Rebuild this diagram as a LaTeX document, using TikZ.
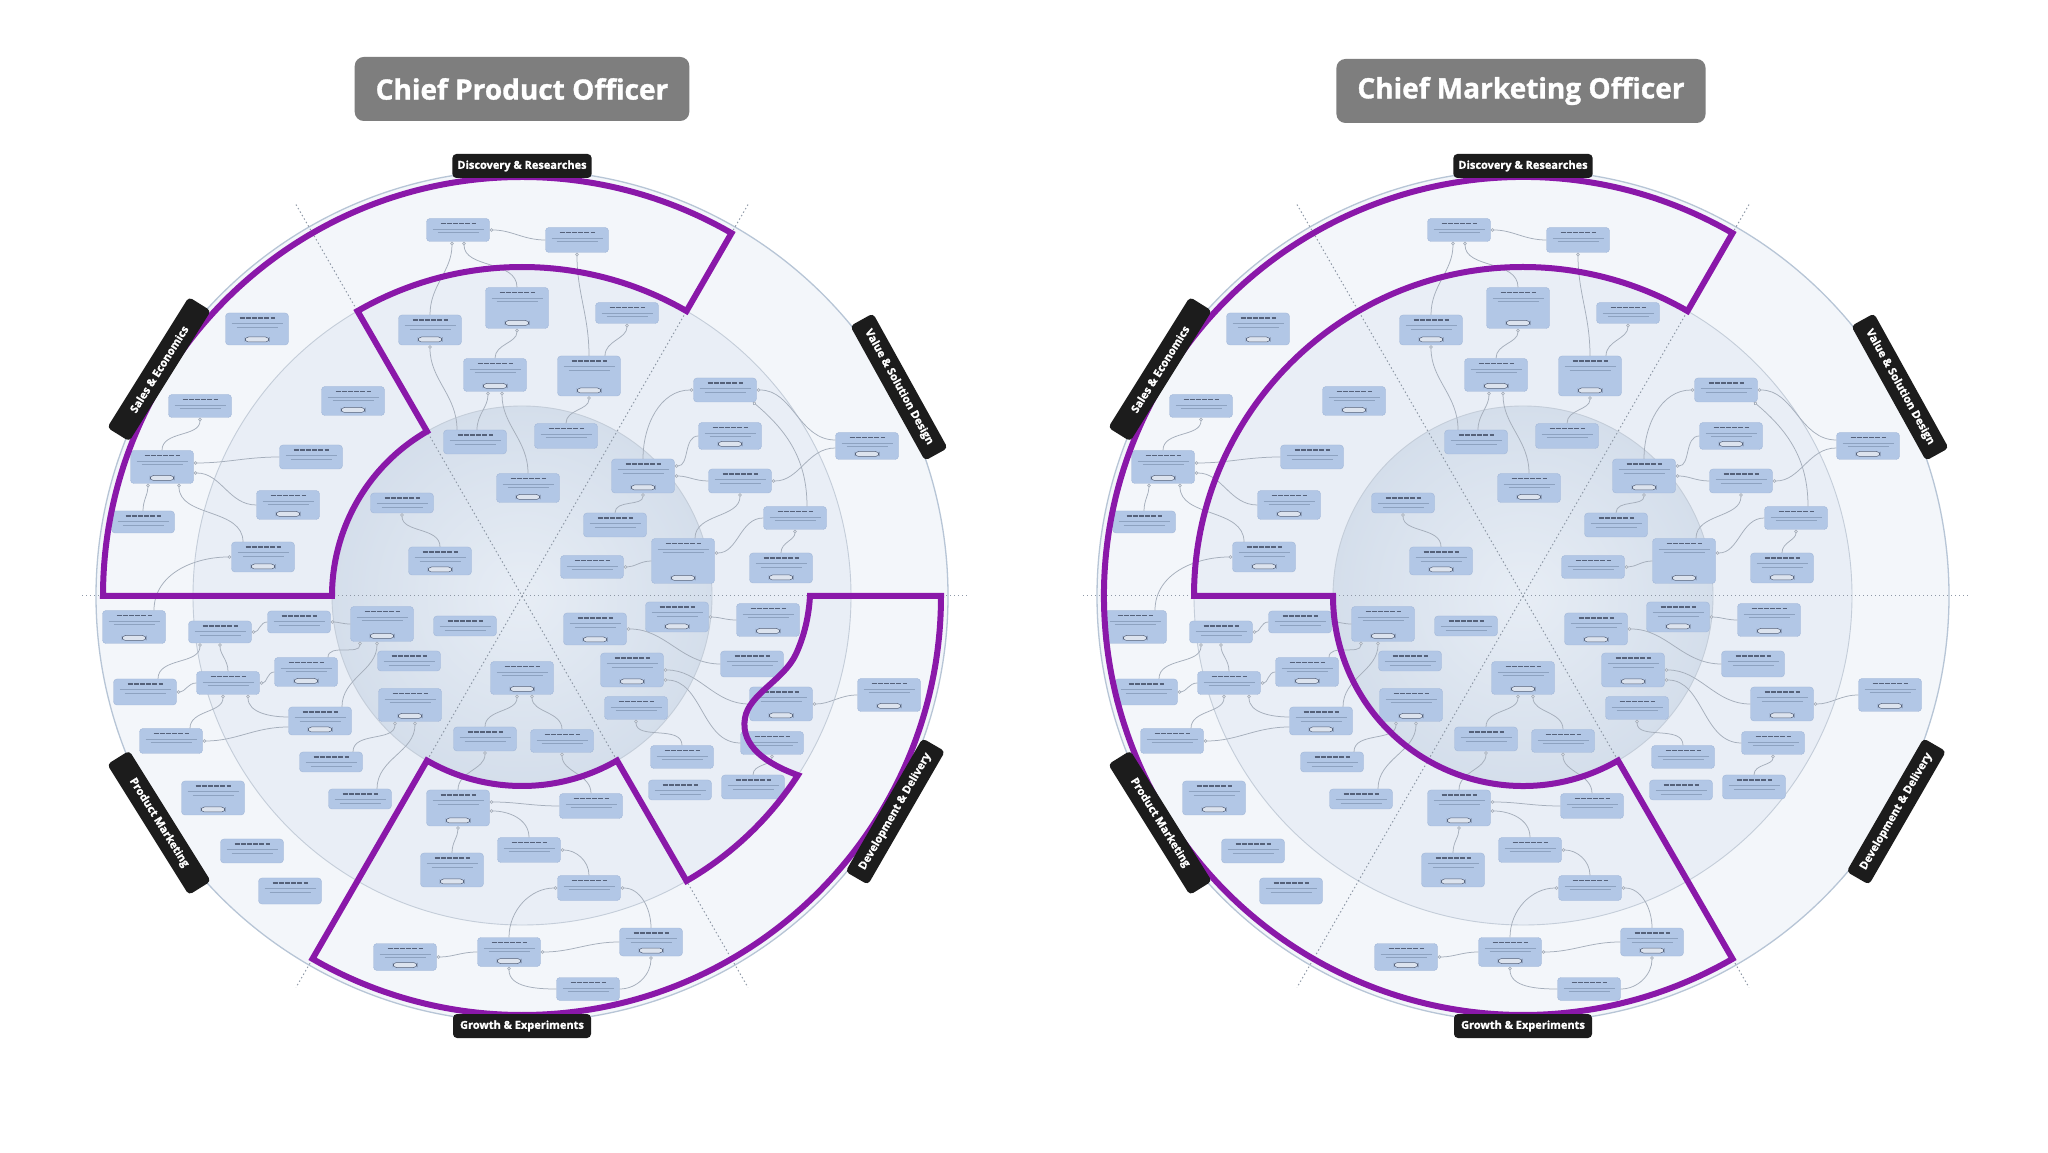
\documentclass[tikz,border=0pt]{standalone}
\usepackage{fontspec}
\setmainfont{Open Sans}
\newfontfamily\heavy{Open Sans}[BoldFeatures={FakeBold=1.2}]
\usetikzlibrary{arrows.meta}
\definecolor{cardblue}{HTML}{B2C7E6}
\definecolor{cardedge}{HTML}{A2B7D8}
\definecolor{ringO}{HTML}{F3F6FA}
\definecolor{ringM}{HTML}{E9EEF6}
\definecolor{innerA}{HTML}{E7EDF5}
\definecolor{innerB}{HTML}{D4DEEB}
\definecolor{ringline}{HTML}{C4CDD9}
\definecolor{outerline}{HTML}{B7C5D6}
\definecolor{spokec}{HTML}{8E98A6}
\definecolor{purp}{HTML}{8A18A9}
\definecolor{labelblk}{HTML}{1C1C1C}
\definecolor{titlegray}{HTML}{7E7E7E}
\definecolor{linkc}{HTML}{A5AEBB}
\definecolor{tbarc}{HTML}{56627A}
\definecolor{fbarc}{HTML}{8DA2C0}
\definecolor{tagc}{HTML}{DCE3EE}
\newcommand\cardbase{%
 \draw[tbarc,line width=1.2pt,dash pattern=on 5pt off 1.2pt] ([xshift=14pt,yshift=-5pt]path picture bounding box.north west) -- ([xshift=-14pt,yshift=-5pt]path picture bounding box.north east);
 \draw[fbarc,line width=0.6pt] ([xshift=6pt,yshift=-10.5pt]path picture bounding box.north west) -- ([xshift=-6pt,yshift=-10.5pt]path picture bounding box.north east);
 \draw[fbarc,line width=0.6pt] ([xshift=11pt,yshift=-14pt]path picture bounding box.north west) -- ([xshift=-11pt,yshift=-14pt]path picture bounding box.north east);
}
\newcommand\cardtagdraw{%
 \draw[tbarc,fill=tagc,line width=0.5pt] ([xshift=-12pt,yshift=3pt]path picture bounding box.south) rectangle ([xshift=12pt,yshift=8pt]path picture bounding box.south);
}
\tikzset{
 cardbox/.style={fill=cardblue, draw=cardedge, line width=0.4pt, rounded corners=3.5pt, minimum width=63pt, inner sep=0pt, path picture={\cardbase}},
 cardtag/.style={fill=cardblue, draw=cardedge, line width=0.4pt, rounded corners=3.5pt, minimum width=63pt, inner sep=0pt, path picture={\cardbase\cardtagdraw}},
 link/.style={draw=linkc, line width=0.75pt, arrows={Circle[length=3.6pt,fill=white]-}},
 spoke/.style={draw=spokec, line width=1pt, dash pattern=on 1.4pt off 2.6pt},
 purpline/.style={draw=purp, line width=6pt},
 seclab/.style={fill=labelblk, text=white, font=\heavy\bfseries\fontsize{11}{12}\selectfont, rounded corners=4pt, minimum height=24pt, inner xsep=5pt},
 seclabr/.style={seclab, minimum width=154pt, minimum height=26pt},
 titlebox/.style={fill=titlegray, text=white, font=\heavy\bfseries\fontsize{28}{32}\selectfont, rounded corners=9pt, minimum height=64pt, inner xsep=21pt}
}
\newcommand\crd[4]{\ifnum#4>26 \node[cardtag,minimum height=#4pt] (\wpre#1) at (#2,#3) {};\else \node[cardbox,minimum height=#4pt] (\wpre#1) at (#2,#3) {};\fi}
\newcommand\lk{\draw[link]}
\newcommand\wheelbg{%
 \fill[ringO] (0,0) circle[radius=426];
 \draw[outerline, line width=1.3pt] (0,0) circle[radius=426];
 \fill[ringM] (0,0) circle[radius=329];
 \draw[ringline, line width=0.9pt] (0,0) circle[radius=329];
 \shade[inner color=innerA, outer color=innerB] (0,0) circle[radius=190];
 \draw[ringline, line width=0.9pt] (0,0) circle[radius=190];
 \draw[spoke] (180:440) -- (0:446);
 \draw[spoke] (120:452) -- (-60:452);
 \draw[spoke] (60:452) -- (240:452);
}
\newcommand\wheelnodes{%
\crd{a}{-64}{366}{23}
\crd{b}{-265}{267}{32}
\crd{c}{-322}{190}{23}
\crd{d}{-360}{129}{33}
\crd{e}{-379}{74}{22}
\crd{f}{-169}{195}{29}
\crd{g}{-211}{139}{24}
\crd{h}{-234}{91}{29}
\crd{i}{-259}{39}{30}
\crd{j}{-92}{266}{30}
\crd{k}{-5}{288}{41}
\crd{l}{-27}{221}{33}
\crd{m}{-47}{154}{24}
\crd{n}{-120}{93}{20}
\crd{o}{-82}{35}{28}
\crd{p}{6}{108}{29}
\crd{q}{55}{356}{25}
\crd{r}{105}{283}{21}
\crd{s}{67}{220}{40}
\crd{t}{44}{160}{25}
\crd{u}{203}{206}{24}
\crd{v}{208}{160}{27}
\crd{w}{121}{120}{34}
\crd{x}{218}{115}{24}
\crd{y}{345}{150}{27}
\crd{z}{273}{78}{23}
\crd{aa}{93}{71}{24}
\crd{bb}{161}{35}{45}
\crd{cc}{70}{29}{23}
\crd{dd}{259}{28}{30}
\crd{ee}{-388}{-31}{33}
\crd{ff}{-302}{-36}{22}
\crd{gg}{-223}{-26}{22}
\crd{hh}{-140}{-28}{35}
\crd{ii}{-57}{-30}{20}
\crd{jj}{-377}{-96}{26}
\crd{kk}{-294}{-87}{23}
\crd{ll}{-216}{-76}{29}
\crd{mm}{-113}{-65}{20}
\crd{nn}{-351}{-145}{25}
\crd{oo}{-202}{-125}{28}
\crd{pp}{-112}{-109}{33}
\crd{qq}{-191}{-166}{20}
\crd{rr}{-37}{-143}{24}
\crd{ss}{-162}{-203}{20}
\crd{tt}{-309}{-202}{34}
\crd{uu}{-270}{-255}{24}
\crd{vv}{-232}{-295}{26}
\crd{ww}{-64}{-212}{36}
\crd{xx}{-70}{-274}{34}
\crd{yy}{-117}{-361}{27}
\crd{zz}{-13}{-356}{29}
\crd{A1}{69}{-210}{25}
\crd{A2}{7}{-254}{25}
\crd{A3}{67}{-292}{25}
\crd{A4}{129}{-346}{28}
\crd{A5}{66}{-393}{23}
\crd{B1}{73}{-33}{32}
\crd{B2}{155}{-21}{30}
\crd{B3}{246}{-24}{33}
\crd{B4}{110}{-74}{34}
\crd{B5}{230}{-68}{26}
\crd{B6}{114}{-112}{23}
\crd{B7}{259}{-108}{34}
\crd{B8}{367}{-99}{33}
\crd{B9}{40}{-145}{23}
\crd{B10}{160}{-161}{23}
\crd{B11}{250}{-147}{23}
\crd{B12}{158}{-194}{20}
\crd{B13}{231}{-191}{24}
\crd{C1}{0}{-82}{33}
}
\newcommand\wheellinks{%
\lk (\wpre a.east) to[out=0,in=180] (\wpre q.west);
\lk ([xshift=-6pt]\wpre a.south) to[out=-90,in=90] (\wpre j.north);
\lk ([xshift=6pt]\wpre a.south) to[out=-90,in=90] (\wpre k.north);
\lk (\wpre j.south) to[out=-90,in=90] ([xshift=-18pt]\wpre m.north);
\lk (\wpre k.south) to[out=-90,in=90] (\wpre l.north);
\lk ([xshift=-7pt]\wpre l.south) to[out=-90,in=90] ([xshift=2pt]\wpre m.north);
\lk ([xshift=7pt]\wpre l.south) to[out=-90,in=90] (\wpre p.north);
\lk (\wpre q.south) to[out=-90,in=90] (\wpre s.north);
\lk (\wpre r.south) to[out=-90,in=90] ([xshift=16pt]\wpre s.north);
\lk (\wpre s.south) to[out=-90,in=90] (\wpre t.north);
\lk (\wpre c.south) to[out=-90,in=90] (\wpre d.north);
\lk ([yshift=4pt]\wpre d.east) to[out=0,in=180] (\wpre g.west);
\lk ([yshift=-6pt]\wpre d.east) to[out=0,in=180] (\wpre h.west);
\lk ([xshift=-14pt]\wpre d.south) to[out=-90,in=90] (\wpre e.north);
\lk ([xshift=17pt]\wpre d.south) to[out=-90,in=90] ([xshift=-20pt]\wpre i.north);
\lk (\wpre i.west) to[out=180,in=90] ([xshift=20pt]\wpre ee.north);
\lk (\wpre n.south) to[out=-90,in=90] (\wpre o.north);
\lk (\wpre u.west) to[out=180,in=90] (\wpre w.north);
\lk (\wpre u.east) to[out=0,in=180] ([yshift=6pt]\wpre y.west);
\lk ([xshift=28pt]\wpre u.south) to[out=-40,in=90] ([xshift=12pt]\wpre z.north);
\lk ([yshift=10pt]\wpre w.east) to[out=0,in=180] (\wpre v.west);
\lk (\wpre w.east) to[out=0,in=180] (\wpre x.west);
\lk (\wpre x.east) to[out=0,in=180] ([yshift=-2pt]\wpre y.west);
\lk (\wpre x.south) to[out=-90,in=90] ([xshift=12pt]\wpre bb.north);
\lk (\wpre w.south) to[out=-90,in=90] (\wpre aa.north);
\lk (\wpre cc.east) to[out=0,in=180] (\wpre bb.west);
\lk ([yshift=8pt]\wpre bb.east) to[out=0,in=180] (\wpre z.west);
\lk (\wpre z.south) to[out=-90,in=90] (\wpre dd.north);
\lk (\wpre ff.east) to[out=0,in=180] (\wpre gg.west);
\lk (\wpre gg.east) to[out=0,in=180] (\wpre hh.west);
\lk ([xshift=-20pt]\wpre ff.south) to[out=-90,in=90] ([xshift=13pt]\wpre jj.north);
\lk (\wpre ff.south) to[out=-90,in=90] (\wpre kk.north);
\lk (\wpre jj.east) to[out=0,in=180] (\wpre kk.west);
\lk (\wpre kk.east) to[out=0,in=180] (\wpre ll.west);
\lk ([xshift=-22pt]\wpre hh.south) to[out=-90,in=90] ([xshift=22pt]\wpre ll.north);
\lk ([xshift=-5pt]\wpre hh.south) to[out=-90,in=90] ([xshift=22pt]\wpre oo.north);
\lk ([xshift=-5pt]\wpre kk.south) to[out=-90,in=90] ([xshift=19pt]\wpre nn.north);
\lk ([xshift=20pt]\wpre kk.south) to[out=-90,in=180] ([yshift=4pt]\wpre oo.west);
\lk (\wpre nn.east) to[out=0,in=180] ([yshift=-6pt]\wpre oo.west);
\lk ([xshift=-15pt]\wpre pp.south) to[out=-90,in=90] ([xshift=22pt]\wpre qq.north);
\lk ([xshift=5pt]\wpre pp.south) to[out=-90,in=90] ([xshift=17pt]\wpre ss.north);
\lk ([xshift=-5pt]\wpre C1.south) to[out=-90,in=90] (\wpre rr.north);
\lk (\wpre rr.south) to[out=-90,in=90] (\wpre ww.north);
\lk (\wpre ww.south) to[out=-90,in=90] (\wpre xx.north);
\lk (\wpre yy.east) to[out=0,in=180] (\wpre zz.west);
\lk ([yshift=6pt]\wpre ww.east) to[out=0,in=180] (\wpre A1.west);
\lk ([yshift=-3pt]\wpre ww.east) to[out=0,in=90] (\wpre A2.north);
\lk (\wpre A2.east) to[out=0,in=90] (\wpre A3.north);
\lk (\wpre A3.west) to[out=180,in=90] (\wpre zz.north);
\lk (\wpre A3.east) to[out=0,in=90] (\wpre A4.north);
\lk (\wpre zz.east) to[out=0,in=180] (\wpre A4.west);
\lk (\wpre zz.south) to[out=-90,in=180] (\wpre A5.west);
\lk (\wpre A4.south) to[out=-90,in=0] (\wpre A5.east);
\lk (\wpre B9.south) to[out=-90,in=90] (\wpre A1.north);
\lk ([xshift=10pt]\wpre C1.south) to[out=-90,in=90] (\wpre B9.north);
\lk (\wpre B1.east) to[out=0,in=180] (\wpre B5.west);
\lk (\wpre B4.east) to[out=0,in=180] (\wpre B7.west);
\lk ([yshift=-10pt]\wpre B4.east) to[out=0,in=180] (\wpre B11.west);
\lk (\wpre B2.east) to[out=0,in=180] (\wpre B3.west);
\lk (\wpre B6.south) to[out=-90,in=90] (\wpre B10.north);
\lk (\wpre B7.east) to[out=0,in=180] (\wpre B8.west);
\lk (\wpre B11.south) to[out=-90,in=90] (\wpre B13.north);
}
\newcommand\wheellabels{%
\node[seclab, minimum width=138pt] (\wpre labdr) at (90:430) {Discovery \& Researches};
\node[seclabr, rotate=-61] (\wpre labvs) at (29:431) {Value \& Solution Design};
\node[seclabr, rotate=60] (\wpre labdd) at (-30:431) {Development \& Delivery};
\node[seclab, minimum width=138pt] (\wpre labge) at (-90:430) {Growth \& Experiments};
\node[seclabr, rotate=-58] (\wpre labpm) at (212:428) {Product Marketing};
\node[seclabr, rotate=58] (\wpre labse) at (148:428) {Sales \& Economics};
}
\begin{document}
\begin{tikzpicture}[x=1pt,y=1pt]
\useasboundingbox (0,0) rectangle (2048,1152);
\fill[white] (0,0) rectangle (2048,1152);
\node[titlebox] (cpo) at (522,1063) {Chief Product Officer};
\node[titlebox] (cmo) at (1521,1061) {Chief Marketing Officer};
\begin{scope}[shift={(522,556)}]
 \def\wpre{L}
 \wheelbg
 \wheelnodes
 \wheellinks
 \draw[purpline] (180:419) arc[start angle=180,end angle=60,radius=419] -- (60:329) arc[start angle=60,end angle=120,radius=329] -- (120:190) arc[start angle=120,end angle=180,radius=190] -- cycle;
 \draw[purpline] (288,0) -- (0:419) arc[start angle=0,end angle=-120,radius=419] -- (-120:190) arc[start angle=-120,end angle=-60,radius=190] -- (-60:329) arc[start angle=-60,end angle=-33,radius=329] .. controls (245,-168) and (218,-150) .. (223,-122) .. controls (227,-98) and (262,-84) .. (274,-58) .. controls (284,-36) and (287,-16) .. (288,0) -- cycle;
 \wheellabels
\end{scope}
\begin{scope}[shift={(1523,556)}]
 \def\wpre{R}
 \wheelbg
 \wheelnodes
 \wheellinks
 \draw[purpline] (60:419) arc[start angle=60,end angle=300,radius=419] -- (-60:190) arc[start angle=-60,end angle=-180,radius=190] -- (180:329) arc[start angle=180,end angle=60,radius=329] -- cycle;
 \wheellabels
\end{scope}
\end{tikzpicture}
\end{document}
